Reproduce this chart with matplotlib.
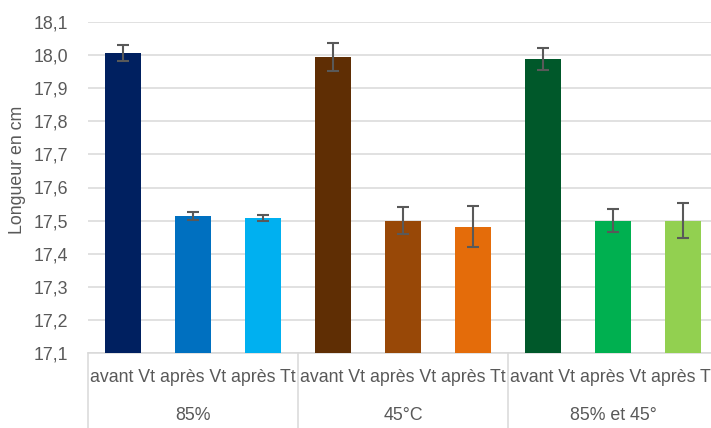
import matplotlib.pyplot as plt
import matplotlib.transforms as mtransforms
import numpy as np

plt.rcParams['font.family'] = ['Liberation Sans', 'DejaVu Sans']

# Données
groups = ['85%', '45°C', '85% et 45°']
categories = ['avant Vt', 'après Vt', 'après Tt']
values = [18.006, 17.513, 17.508,
          17.994, 17.500, 17.481,
          17.988, 17.500, 17.500]
errors = [0.024, 0.012, 0.010,
          0.042, 0.040, 0.062,
          0.032, 0.035, 0.054]
colors = ['#002060', '#0070C0', '#00B0F0',
          '#5F2E04', '#984807', '#E46C0A',
          '#00582A', '#00B050', '#92D050']

text_col = '#595959'
grid_col = '#D9D9D9'
fs = 12.8

fig = plt.figure(figsize=(7.11, 4.28), dpi=100)
ax = fig.add_axes([88 / 711, 75 / 428, 630 / 711, 331 / 428])

x = np.arange(len(values))
ax.bar(x, values, width=0.52, color=colors, zorder=3)
ax.errorbar(x, values, yerr=errors, fmt='none', ecolor=text_col,
            elinewidth=1.5, capsize=4.5, capthick=1.5, zorder=4)

ax.set_ylim(17.1, 18.1)
ax.set_xlim(-0.5, 8.5)
yt = np.round(np.arange(17.1, 18.11, 0.1), 1)
ax.set_yticks(yt)
ax.set_yticklabels([f'{v:.1f}'.replace('.', ',') for v in yt])
ax.tick_params(axis='y', length=0, pad=14, labelsize=fs, labelcolor=text_col)
ax.set_xticks([])
ax.grid(axis='y', color=grid_col, linewidth=1.1, zorder=0)
for s in ['top', 'right', 'left']:
    ax.spines[s].set_visible(False)
ax.spines['bottom'].set_color(grid_col)
ax.spines['bottom'].set_linewidth(1.1)

# Étiquettes multi-niveaux
trans = mtransforms.blended_transform_factory(ax.transData, ax.transAxes)
for i in x:
    ax.text(i, -25 / 331, categories[i % 3], transform=trans, ha='center',
            va='center', fontsize=fs, color=text_col)
for g, name in enumerate(groups):
    ax.text(g * 3 + 1, -63 / 331, name, transform=trans, ha='center',
            va='center', fontsize=fs, color=text_col)
for xs in [-0.5, 2.5, 5.5, 8.5]:
    ax.plot([xs, xs], [0, -0.23], transform=trans, color=grid_col,
            linewidth=1.1, clip_on=False)

fig.text(18 / 711, 1 - 170 / 428, 'Longueur en cm', rotation=90,
         ha='center', va='center', fontsize=fs, color=text_col)

plt.savefig('out.png', dpi=100)
plt.close()
